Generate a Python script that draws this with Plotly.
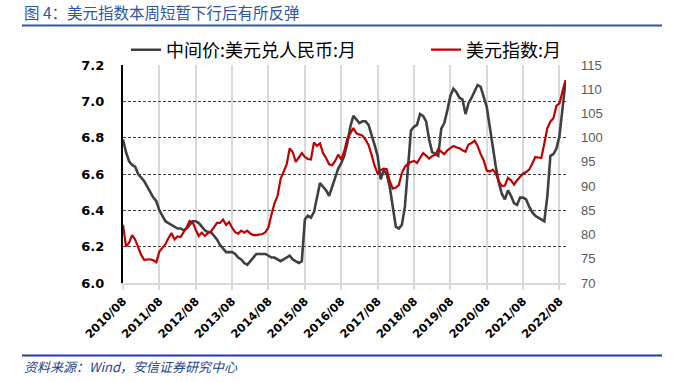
import plotly.graph_objects as go

# ---------------- data ----------------
start_year, start_month, n_months = 2010, 8, 147
months = []
y, m = start_year, start_month
for _ in range(n_months):
    months.append(f"{y}/{m:02d}")
    m += 1
    if m > 12:
        m = 1
        y += 1

cny_mid = [
    6.79, 6.72, 6.67, 6.65, 6.64, 6.60, 6.58, 6.56, 6.53, 6.50, 6.47, 6.45,
    6.40, 6.37, 6.34, 6.33, 6.32, 6.31, 6.30, 6.30, 6.29, 6.30, 6.32, 6.34,
    6.34, 6.33, 6.31, 6.29, 6.28, 6.28, 6.26, 6.24, 6.21, 6.19, 6.17, 6.17,
    6.17, 6.16, 6.14, 6.13, 6.11, 6.10, 6.12, 6.14, 6.16, 6.16, 6.16, 6.16,
    6.15, 6.14, 6.14, 6.13, 6.12, 6.13, 6.14, 6.15, 6.13, 6.12, 6.11, 6.12,
    6.35, 6.37, 6.36, 6.39, 6.47, 6.55, 6.53, 6.51, 6.48, 6.53, 6.57, 6.63,
    6.66, 6.70, 6.77, 6.86, 6.92, 6.90, 6.88, 6.89, 6.89, 6.87, 6.82, 6.76,
    6.70, 6.57, 6.62, 6.60, 6.53, 6.42, 6.31, 6.30, 6.32, 6.42, 6.62, 6.84,
    6.86, 6.87, 6.93, 6.92, 6.89, 6.79, 6.72, 6.71, 6.70, 6.85, 6.88, 6.95,
    7.03, 7.07, 7.05, 7.02, 7.01, 6.93, 6.99, 7.02, 7.06, 7.09, 7.08, 7.03,
    6.97, 6.86, 6.74, 6.64, 6.55, 6.49, 6.46, 6.51, 6.48, 6.44, 6.43, 6.47,
    6.47, 6.46, 6.42, 6.39, 6.37, 6.36, 6.35, 6.34, 6.48, 6.70, 6.71, 6.74,
    6.81, 6.97, 7.11,
]

dxy = [
    82.0, 77.5, 78.3, 79.9, 79.0, 77.5, 75.8, 74.8, 74.8, 74.9, 74.7, 74.3,
    76.5, 77.2, 78.0, 79.3, 80.3, 79.0, 79.6, 79.5, 80.5, 81.5, 82.8, 82.5,
    81.0, 79.7, 80.4, 79.7, 80.3, 80.6, 81.5, 82.4, 82.4, 83.1, 82.0, 82.6,
    81.4, 80.5, 80.2, 80.8, 80.4, 80.8, 80.2, 79.9, 79.9, 80.0, 80.1, 80.5,
    81.5, 84.2, 86.5, 88.0, 91.5, 93.0, 94.5, 97.8, 97.0, 95.0, 95.8, 96.8,
    96.0, 95.6, 95.5, 99.0, 98.3, 98.8, 96.8, 95.8, 94.5, 94.3, 95.2, 96.5,
    95.5, 97.2, 99.8, 101.0, 102.0, 100.9, 100.7, 100.4, 99.6, 98.5, 96.5, 94.2,
    92.6, 93.3, 93.6, 93.5, 91.0, 89.5, 89.7, 90.2, 92.7, 94.0, 94.6, 95.0,
    95.2, 94.8, 95.8, 96.8, 96.3, 95.7, 96.2, 96.5, 97.6, 97.0, 96.6, 97.4,
    97.8, 98.3, 98.0, 97.8, 97.4, 97.1, 98.6, 98.9, 99.4, 98.3, 96.6, 95.3,
    93.2, 93.0, 93.4, 92.6, 91.0, 90.0, 90.1, 91.7, 91.2, 90.3, 91.2, 92.0,
    92.6, 92.9, 93.4, 94.6, 96.0, 95.9, 95.8, 98.8, 102.0, 103.3, 104.0, 106.6,
    107.1, 109.5, 111.9,
]

x_ticks = [f"{yr}/08" for yr in range(2010, 2023)]
left_ticks = [6.0, 6.2, 6.4, 6.6, 6.8, 7.0, 7.2]
right_ticks = [70, 75, 80, 85, 90, 95, 100, 105, 110, 115]

name_cny = "中间价:美元兑人民币:月"
name_dxy = "美元指数:月"
title_text = "图 4：美元指数本周短暂下行后有所反弹"
source_text = "资料来源：Wind，安信证券研究中心"

# ---------------- layout geometry ----------------
W, H = 678, 382
L, R, T, B = 123, 112, 65, 99
PW, PH = W - L - R, H - T - B


def px(x):
    return (x - L) / PW


def py(y):
    return (H - B - y) / PH


CJK = "Noto Sans CJK SC"
BLUE = "#2f55a4"

fig = go.Figure()
fig.add_trace(go.Scatter(
    x=months, y=cny_mid, name=name_cny, mode="lines",
    line=dict(color="#404040", width=2.6), yaxis="y", legend="legend",
))
fig.add_trace(go.Scatter(
    x=months, y=dxy, name=name_dxy, mode="lines",
    line=dict(color="#c00000", width=2.2), yaxis="y2", legend="legend2",
))

legend_common = dict(
    orientation="h", yanchor="middle", xanchor="left",
    font=dict(family=CJK, size=18, color="#000000"),
    itemwidth=30, bgcolor="rgba(0,0,0,0)", borderwidth=0,
)

fig.update_layout(
    width=W, height=H,
    margin=dict(l=L, r=R, t=T, b=B, autoexpand=False),
    paper_bgcolor="white", plot_bgcolor="white",
    font=dict(family=CJK, color="#000000"),
    xaxis=dict(
        type="category", categoryorder="array", categoryarray=months,
        range=[0, len(months) - 0.85],
        tickmode="array", tickvals=x_ticks, ticktext=x_ticks,
        tickangle=-45,
        tickfont=dict(family="DejaVu Sans", size=11.5, color="#000000", weight="bold"),
        showgrid=True, gridcolor="#d9d9d9", gridwidth=1.5,
        showline=True, linecolor="#d9d9d9", linewidth=2,
        ticks="outside", ticklen=5, tickcolor="#d9d9d9", tickwidth=1.5,
        zeroline=False,
    ),
    yaxis=dict(
        range=[6.0, 7.2], tickmode="array", tickvals=left_ticks,
        ticktext=[f"{v:.1f}" for v in left_ticks],
        tickfont=dict(family="DejaVu Sans", size=13, color="#000000", weight="bold"),
        showgrid=True, gridcolor="#404040", gridwidth=1, griddash="3px,2px",
        showline=True, linecolor="#000000", linewidth=2.2,
        ticks="", ticklabelstandoff=14, zeroline=False,
    ),
    yaxis2=dict(
        range=[70, 115], tickmode="array", tickvals=right_ticks,
        overlaying="y", side="right",
        tickfont=dict(family="Liberation Sans", size=13, color="#595959"),
        showgrid=False, showline=False, ticks="", ticklabelstandoff=14,
        zeroline=False,
    ),
    legend=dict(x=px(126), y=py(50), **legend_common),
    legend2=dict(x=px(426), y=py(50), **legend_common),
    showlegend=True,
)

# title, rules, source
fig.add_annotation(
    x=px(22), y=py(12), xref="paper", yref="paper", xanchor="left", yanchor="middle",
    text=title_text, showarrow=False,
    font=dict(family=CJK, size=15.5, color=BLUE),
)
fig.add_shape(type="line", xref="paper", yref="paper",
              x0=px(22), x1=px(662), y0=py(25.5), y1=py(25.5),
              line=dict(color=BLUE, width=2))
fig.add_shape(type="line", xref="paper", yref="paper",
              x0=px(22), x1=px(662), y0=py(355.5), y1=py(355.5),
              line=dict(color="#1f3f99", width=2))
fig.add_annotation(
    x=px(22), y=py(366), xref="paper", yref="paper", xanchor="left", yanchor="middle",
    text=f"<i>{source_text}</i>", showarrow=False,
    font=dict(family=CJK, size=13, color="#1f3f8f"),
)

fig.write_html(
    "out.html",
    config={"displayModeBar": False},
    post_script="document.body.style.margin='0px';document.body.style.padding='0px';",
)
